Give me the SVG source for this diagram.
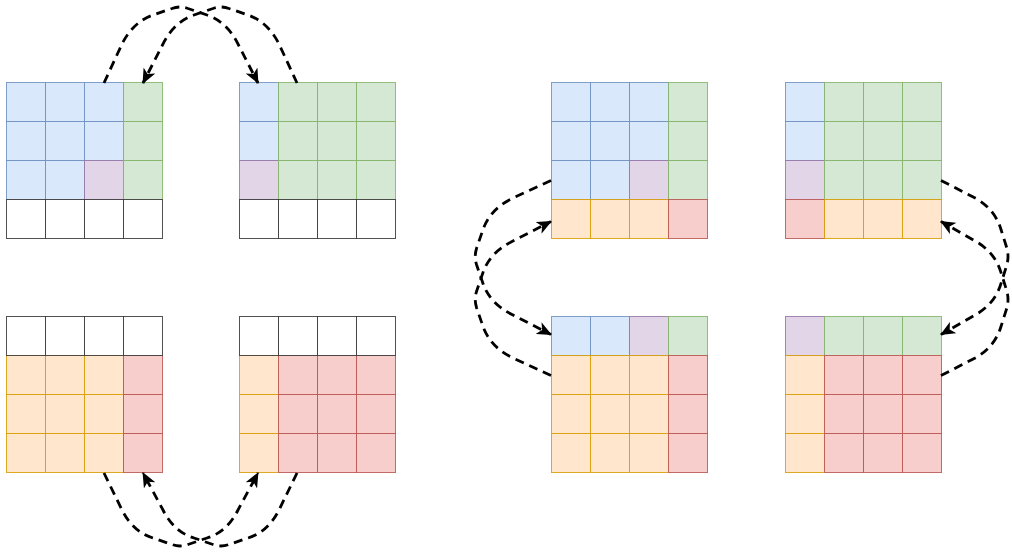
<svg xmlns="http://www.w3.org/2000/svg" width="1012" height="553" viewBox="0 0 1012 553">
<defs>
<style>
rect{stroke-width:1}
.b{fill:#dae8fc;stroke:#6c8ebf}
.g{fill:#d5e8d4;stroke:#82b366}
.p{fill:#e1d5e7;stroke:#9673a6}
.o{fill:#ffe6cc;stroke:#d79b00}
.r{fill:#f8cecc;stroke:#b85450}
.w{fill:#ffffff;stroke:#333333}
.cells rect{width:39px;height:39px;stroke-opacity:0.85}
.edge{fill:none;stroke:#000;stroke-width:2.8;stroke-dasharray:9 6;stroke-linejoin:round}
</style>
<marker id="arr" viewBox="0 0 15 13" refX="14" refY="6.5" markerWidth="15" markerHeight="13" markerUnits="userSpaceOnUse" orient="auto">
<path d="M0,0 L15,6.5 L0,13 L4,6.5 Z" fill="#000"/>
</marker>
</defs>
<rect width="1012" height="553" fill="#ffffff"/>

<g id="gridA" class="cells" transform="translate(6.5,82.5)">
<rect class="b" x="0" y="0"/><rect class="b" x="39" y="0"/><rect class="b" x="78" y="0"/><rect class="g" x="117" y="0"/>
<rect class="b" x="0" y="39"/><rect class="b" x="39" y="39"/><rect class="b" x="78" y="39"/><rect class="g" x="117" y="39"/>
<rect class="b" x="0" y="78"/><rect class="b" x="39" y="78"/><rect class="p" x="78" y="78"/><rect class="g" x="117" y="78"/>
<rect class="w" x="0" y="117"/><rect class="w" x="39" y="117"/><rect class="w" x="78" y="117"/><rect class="w" x="117" y="117"/>
</g>

<g id="gridB" class="cells" transform="translate(239.5,82.5)">
<rect class="b" x="0" y="0"/><rect class="g" x="39" y="0"/><rect class="g" x="78" y="0"/><rect class="g" x="117" y="0"/>
<rect class="b" x="0" y="39"/><rect class="g" x="39" y="39"/><rect class="g" x="78" y="39"/><rect class="g" x="117" y="39"/>
<rect class="p" x="0" y="78"/><rect class="g" x="39" y="78"/><rect class="g" x="78" y="78"/><rect class="g" x="117" y="78"/>
<rect class="w" x="0" y="117"/><rect class="w" x="39" y="117"/><rect class="w" x="78" y="117"/><rect class="w" x="117" y="117"/>
</g>

<g id="gridC" class="cells" transform="translate(6.5,316.5)">
<rect class="o" x="0" y="39"/><rect class="o" x="39" y="39"/><rect class="o" x="78" y="39"/><rect class="r" x="117" y="39"/>
<rect class="o" x="0" y="78"/><rect class="o" x="39" y="78"/><rect class="o" x="78" y="78"/><rect class="r" x="117" y="78"/>
<rect class="o" x="0" y="117"/><rect class="o" x="39" y="117"/><rect class="o" x="78" y="117"/><rect class="r" x="117" y="117"/>
<rect class="w" x="0" y="0"/><rect class="w" x="39" y="0"/><rect class="w" x="78" y="0"/><rect class="w" x="117" y="0"/>
</g>

<g id="gridD" class="cells" transform="translate(239.5,316.5)">
<rect class="o" x="0" y="39"/><rect class="r" x="39" y="39"/><rect class="r" x="78" y="39"/><rect class="r" x="117" y="39"/>
<rect class="o" x="0" y="78"/><rect class="r" x="39" y="78"/><rect class="r" x="78" y="78"/><rect class="r" x="117" y="78"/>
<rect class="o" x="0" y="117"/><rect class="r" x="39" y="117"/><rect class="r" x="78" y="117"/><rect class="r" x="117" y="117"/>
<rect class="w" x="0" y="0"/><rect class="w" x="39" y="0"/><rect class="w" x="78" y="0"/><rect class="w" x="117" y="0"/>
</g>

<g id="gridE" class="cells" transform="translate(551.5,82.5)">
<rect class="b" x="0" y="0"/><rect class="b" x="39" y="0"/><rect class="b" x="78" y="0"/><rect class="g" x="117" y="0"/>
<rect class="b" x="0" y="39"/><rect class="b" x="39" y="39"/><rect class="b" x="78" y="39"/><rect class="g" x="117" y="39"/>
<rect class="b" x="0" y="78"/><rect class="b" x="39" y="78"/><rect class="p" x="78" y="78"/><rect class="g" x="117" y="78"/>
<rect class="o" x="0" y="117"/><rect class="o" x="39" y="117"/><rect class="o" x="78" y="117"/><rect class="r" x="117" y="117"/>
</g>

<g id="gridF" class="cells" transform="translate(785.5,82.5)">
<rect class="b" x="0" y="0"/><rect class="g" x="39" y="0"/><rect class="g" x="78" y="0"/><rect class="g" x="117" y="0"/>
<rect class="b" x="0" y="39"/><rect class="g" x="39" y="39"/><rect class="g" x="78" y="39"/><rect class="g" x="117" y="39"/>
<rect class="p" x="0" y="78"/><rect class="g" x="39" y="78"/><rect class="g" x="78" y="78"/><rect class="g" x="117" y="78"/>
<rect class="r" x="0" y="117"/><rect class="o" x="39" y="117"/><rect class="o" x="78" y="117"/><rect class="o" x="117" y="117"/>
</g>

<g id="gridG" class="cells" transform="translate(551.5,316.5)">
<rect class="b" x="0" y="0"/><rect class="b" x="39" y="0"/><rect class="p" x="78" y="0"/><rect class="g" x="117" y="0"/>
<rect class="o" x="0" y="39"/><rect class="o" x="39" y="39"/><rect class="o" x="78" y="39"/><rect class="r" x="117" y="39"/>
<rect class="o" x="0" y="78"/><rect class="o" x="39" y="78"/><rect class="o" x="78" y="78"/><rect class="r" x="117" y="78"/>
<rect class="o" x="0" y="117"/><rect class="o" x="39" y="117"/><rect class="o" x="78" y="117"/><rect class="r" x="117" y="117"/>
</g>

<g id="gridH" class="cells" transform="translate(785.5,316.5)">
<rect class="p" x="0" y="0"/><rect class="g" x="39" y="0"/><rect class="g" x="78" y="0"/><rect class="g" x="117" y="0"/>
<rect class="o" x="0" y="39"/><rect class="r" x="39" y="39"/><rect class="r" x="78" y="39"/><rect class="r" x="117" y="39"/>
<rect class="o" x="0" y="78"/><rect class="r" x="39" y="78"/><rect class="r" x="78" y="78"/><rect class="r" x="117" y="78"/>
<rect class="o" x="0" y="117"/><rect class="r" x="39" y="117"/><rect class="r" x="78" y="117"/><rect class="r" x="117" y="117"/>
</g>

<g id="connectors">
<path class="edge" marker-end="url(#arr)" d="M104,83 L122,44 Q133,22 153,15 L172,8.5 Q180,5.5 188,8.5 L207,15 Q227,22 238,44 L258,83"/>
<path class="edge" marker-end="url(#arr)" d="M297,83 L279,44 Q268,22 248,15 L229,8.5 Q221,5.5 213,8.5 L194,15 Q174,22 163,44 L143,83"/>
<path class="edge" marker-end="url(#arr)" d="M104,473 L122,510 Q133,532 153,538 L172,544.5 Q180,547.5 188,544.5 L207,538 Q227,532 238,510 L258,473"/>
<path class="edge" marker-end="url(#arr)" d="M297,473 L279,510 Q268,532 248,538 L229,544.5 Q221,547.5 213,544.5 L194,538 Q174,532 163,510 L143,473"/>
<path class="edge" marker-end="url(#arr)" d="M551,180.5 L512,198.5 Q490,209.5 483,229.5 L476.5,248.5 Q474,256.5 476.5,264.5 L483,283.5 Q490,303.5 512,314.5 L551,334.5"/>
<path class="edge" marker-end="url(#arr)" d="M551,375.5 L512,357.5 Q490,346.5 483,326.5 L476.5,307.5 Q474,299.5 476.5,291.5 L483,272.5 Q490,252.5 512,241.5 L551,221.5"/>
<path class="edge" marker-end="url(#arr)" d="M941,180.5 L976,198.5 Q995,209.5 1001,229.5 L1007,248.5 Q1009,256.5 1007,264.5 L1001,283.5 Q995,303.5 976,314.5 L941,334.5"/>
<path class="edge" marker-end="url(#arr)" d="M941,375.5 L976,357.5 Q995,346.5 1001,326.5 L1007,307.5 Q1009,299.5 1007,291.5 L1001,272.5 Q995,252.5 976,241.5 L941,221.5"/>
</g>
</svg>
